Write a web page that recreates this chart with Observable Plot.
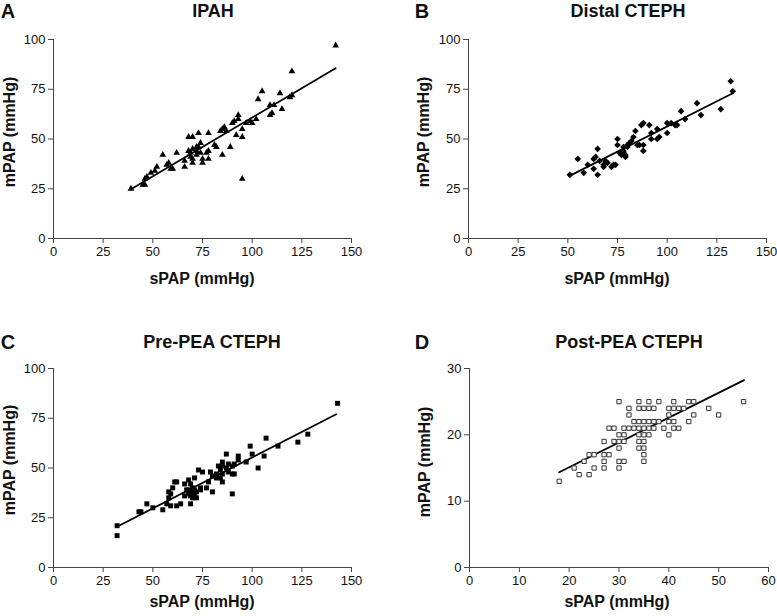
<!DOCTYPE html>
<html>
<head>
<meta charset="utf-8">
<script src="https://cdn.jsdelivr.net/npm/d3@7"></script>
<script src="https://cdn.jsdelivr.net/npm/@observablehq/plot@0.6"></script>
<style>
  html, body { margin: 0; padding: 0; background: #fff; }
  #wrap { position: relative; width: 777px; height: 616px; font-family: "Liberation Sans", Arial, sans-serif; color: #111; overflow: hidden; }
  .panel { position: absolute; }
  .lbl { position: absolute; font-weight: bold; white-space: nowrap; transform: translate(-50%, -50%); }
  .letter { font-size: 20px; }
  .title { font-size: 18px; }
  .axl { font-size: 16px; }
  .ylab { transform: translate(-50%, -50%) rotate(-90deg); }
</style>
</head>
<body>
<div id="wrap"></div>
<script>
// ---------- DATA ----------
// Panel A: IPAH (sPAP, mPAP)
const ipahX = [142,120,105,103,114,115,109,111,109,110,119,120,93,93,91,90,95,95,92,86,85,84,87,89,85,97,99,102,100,82,81,78,77,78,78,73,74,73,72,75,75,68,70,69,70,68,72,70,70,66,66,62,55,52,57,59,60,58,47,46,45,46,39,49,51,95,72,74,69];
const ipahY = [97,84,74,70,73,65,67,67,62,63,71,72,62,60,59,58,55,51,52,56,55,54,54,46,42,58,59,60,58,46,47,44,43,40,53,53,48,46,44,40,38,51,51,43,45,44,46,40,38,36,39,43,42,36,37,35,35,38,31,30,27,27,25,33,34,30,42,43,41];
const ipahFitX = [39, 142];
const ipahFitY = [24.7, 85.6];

// Panel B: Distal CTEPH
const distalX = [132,133,127,115,117,107,109,100,102,104,105,100,95,95,96,91,92,92,87,88,84,83,82,81,85,86,88,88,78,80,78,79,79,77,75,75,76,69,74,72,73,68,68,64,63,65,65,63,60,58,55,51,70,66,78,80];
const distalY = [79,74,65,68,62,64,60,58,58,57,57,53,55,50,51,57,53,50,57,58,54,51,49,48,47,47,47,44,46,46,43,42,41,42,50,47,43,39,37,36,37,37,36,41,40,45,32,35,37,33,40,32,38,39,44,47];
const distalFitX = [51.4, 133];
const distalFitY = [31.7, 73];

// Panel C: Pre-PEA CTEPH
const preX = [143,128,123,113,107,106,103,99,100,97,93,93,90,91,90,91,90,87,88,85,85,87,88,83,84,82,85,84,85,82,79,80,80,77,78,75,73,71,74,74,69,70,70,68,69,68,69,70,71,72,68,66,67,66,62,61,60,59,58,58,57,59,62,64,55,50,47,44,43,32,32,71,70,72];
const preY = [82.5,67,63,61,65,56,50,61,57,53,56,54,51,52,47,47,37,57,52,53,51,50,48,51,49,47,47,45,43,45,48,46,38,40,43,48,49,45,40,39,42,40,38,39,36,37,32,35,37,38,44,42,39,36,43,43,40,37,35,38,32,31,31,32,29,30,32,28,28,21,16,39,36,35];
const preFitX = [32.2, 142.3];
const preFitY = [20.6, 77];

// Panel D: Post-PEA CTEPH
const postX = [30,34,36,38,41,44,45,55, 32,34,35,36,37,40,41,42,43,48, 32,40,45,50, 33,34,35,36,37,38,40,41,44, 28,29,31,32,33,34,35,36,37,39,41,42, 30,31,34,35,36,40, 27,29,30,31,34,35, 30,34,35, 24,25,27,28,35, 23,27,30,31,35, 21,25,27,30, 22,24, 18];
const postY = [25,25,25,25,25,25,25,25, 24,24,24,24,24,24,24,24,24,24, 23,23,23,23, 22,22,22,22,22,22,22,22,22, 21,21,21,21,21,21,21,21,21,21,21,21, 20,20,20,20,20,20, 19,19,19,19,19,19, 18,18,18, 17,17,17,17,17, 16,16,16,16,16, 15,15,15,15, 14,14, 13];
const postFitX = [18, 55.1];
const postFitY = [14.35, 28.25];

// Axis ticks
const ticks150 = [0, 25, 50, 75, 100, 125, 150];
const ticks100 = [0, 25, 50, 75, 100];
const ticks60 = [0, 10, 20, 30, 40, 50, 60];
const ticks30 = [0, 10, 20, 30];

// Text
const letters = ["A", "B", "C", "D"];
const titles = ["IPAH", "Distal CTEPH", "Pre-PEA CTEPH", "Post-PEA CTEPH"];
const xLabel = "sPAP (mmHg)";
const yLabel = "mPAP (mmHg)";

// ---------- DRAW ----------
const wrap = document.getElementById("wrap");
const axisColor = "#444";

function panel(cfg) {
  const pts = cfg.xs.map((x, i) => ({x, y: cfg.ys[i]}));
  const fit = cfg.fx.map((x, i) => ({x, y: cfg.fy[i]}));
  const chart = Plot.plot({
    width: cfg.w, height: cfg.h,
    marginLeft: cfg.ml, marginRight: cfg.mr, marginTop: cfg.mt, marginBottom: cfg.mb,
    style: {fontSize: "13px", fontFamily: "Liberation Sans, Arial, sans-serif", color: "#111", background: "transparent", overflow: "visible"},
    x: {domain: cfg.xd},
    y: {domain: cfg.yd},
    marks: [
      Plot.axisX({ticks: cfg.xt, tickSize: 5, tickPadding: 3, label: null, stroke: axisColor, tickFormat: d => String(d)}),
      Plot.axisY({ticks: cfg.yt, tickSize: 5, tickPadding: 3, label: null, stroke: axisColor, tickFormat: d => String(d)}),
      Plot.ruleX([cfg.xd[0]], {stroke: axisColor, strokeWidth: 1}),
      Plot.ruleY([cfg.yd[0]], {stroke: axisColor, strokeWidth: 1}),
      Plot.line(fit, {x: "x", y: "y", stroke: "#000", strokeWidth: 1.8}),
      Plot.dot(pts, {x: "x", y: "y", symbol: cfg.symbol, r: cfg.r,
        fill: cfg.hollow ? "#fff" : "#000",
        stroke: cfg.hollow ? "#333" : "none", strokeWidth: cfg.hollow ? 1 : 0})
    ]
  });
  chart.style.position = "absolute";
  chart.style.left = cfg.left + "px";
  chart.style.top = cfg.top + "px";
  wrap.appendChild(chart);
}

function label(text, x, y, cls) {
  const d = document.createElement("div");
  d.className = "lbl " + cls;
  d.textContent = text;
  d.style.left = x + "px";
  d.style.top = y + "px";
  wrap.appendChild(d);
}

panel({xs: ipahX, ys: ipahY, fx: ipahFitX, fy: ipahFitY, left: 0, top: 0, w: 388, h: 308, ml: 53, mr: 37, mt: 39, mb: 70,
  xd: [0, 150], yd: [0, 100], xt: ticks150, yt: ticks100, symbol: "triangle", r: 2.5});
panel({xs: distalX, ys: distalY, fx: distalFitX, fy: distalFitY, left: 388, top: 0, w: 389, h: 308, ml: 80, mr: 11, mt: 39, mb: 70,
  xd: [0, 150], yd: [0, 100], xt: ticks150, yt: ticks100, symbol: "diamond2", r: 3});
panel({xs: preX, ys: preY, fx: preFitX, fy: preFitY, left: 0, top: 308, w: 388, h: 308, ml: 53, mr: 37, mt: 60, mb: 49,
  xd: [0, 150], yd: [0, 100], xt: ticks150, yt: ticks100, symbol: "square", r: 2.8});
panel({xs: postX, ys: postY, fx: postFitX, fy: postFitY, left: 388, top: 308, w: 389, h: 308, ml: 81, mr: 9, mt: 60, mb: 49,
  xd: [0, 60], yd: [0, 30], xt: ticks60, yt: ticks30, symbol: "square", r: 2.4, hollow: true});

// letters & titles
label(letters[0], 8, 11, "letter");
label(titles[0], 213, 11, "title");
label(letters[1], 422, 11, "letter");
label(titles[1], 628, 11, "title");
label(letters[2], 8, 342, "letter");
label(titles[2], 212, 342, "title");
label(letters[3], 422, 342, "letter");
label(titles[3], 629, 342, "title");

// axis labels
label(xLabel, 202, 279, "axl");
label(xLabel, 617, 279, "axl");
label(xLabel, 202, 602, "axl");
label(xLabel, 617, 602, "axl");
label(yLabel, 10, 132, "axl ylab");
label(yLabel, 424, 132, "axl ylab");
label(yLabel, 10, 460, "axl ylab");
label(yLabel, 425, 462, "axl ylab");
</script>
</body>
</html>
